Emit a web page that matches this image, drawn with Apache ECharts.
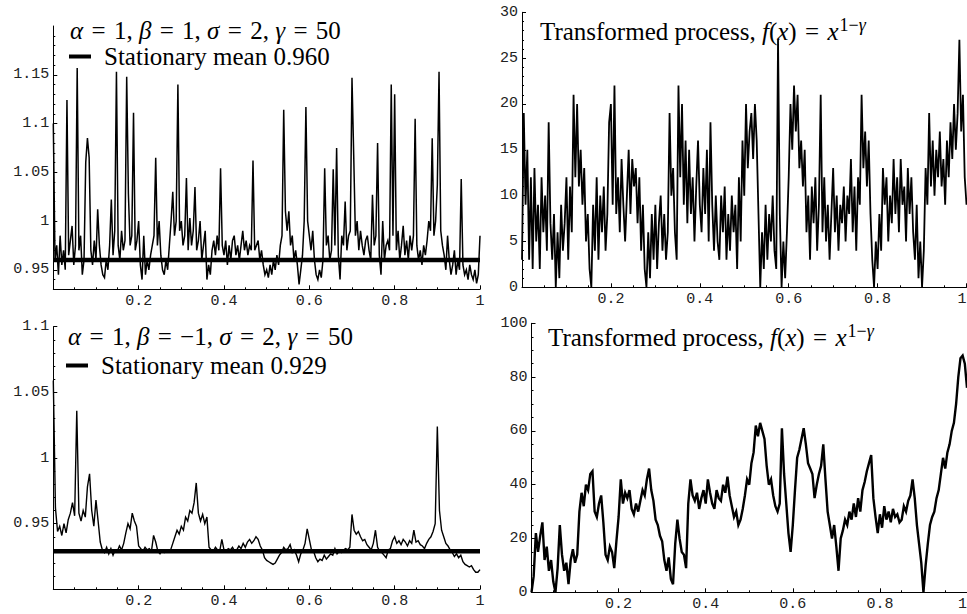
<!DOCTYPE html>
<html><head><meta charset="utf-8">
<script src="https://cdn.jsdelivr.net/npm/echarts@6/dist/echarts.min.js"></script>
<style>html,body{margin:0;padding:0;background:#fff}#c{width:967px;height:614px}</style>
</head><body><div id="c"></div>
<script>
// ---- data ----
const tlValues = [1.1,0.96,0.975,0.945,0.985,0.955,0.97,0.95,1.124,0.965,
0.98,0.995,0.955,0.975,1.157,0.97,0.985,0.945,0.96,1.06,
1.085,1.065,0.97,0.955,0.98,0.96,1.012,0.975,0.955,0.945,
0.942,0.96,0.95,0.975,1.022,0.965,0.99,1.153,0.975,0.96,
0.99,0.97,0.98,1.148,1.028,0.975,0.985,1.111,0.97,0.98,
1.0,0.955,0.94,0.985,0.945,0.96,0.95,0.965,0.975,0.985,
1.065,0.975,1.0,0.965,0.95,0.945,0.96,0.95,0.975,1.0,
1.03,0.985,1.0,1.14,0.99,1.0,0.975,0.985,1.044,0.97,
1.003,0.975,0.99,1.035,0.97,0.98,1.0,0.96,0.975,0.99,
0.94,0.955,0.945,0.97,0.98,0.965,0.985,0.97,1.054,0.975,
0.965,0.98,0.955,0.975,0.96,0.98,0.985,0.965,0.975,0.96,
0.975,0.99,0.97,0.98,0.965,0.975,0.97,1.062,0.97,0.975,
0.98,0.96,0.97,0.955,0.945,0.95,0.942,0.955,0.945,0.96,
0.95,0.965,0.955,0.975,0.985,1.114,1.01,0.99,1.01,0.975,
0.985,0.96,0.97,0.955,0.935,0.95,0.965,1.0,1.117,1.0,
0.985,0.97,0.99,0.96,0.945,0.94,0.95,0.942,0.96,1.054,
0.975,0.985,0.96,0.97,1.053,0.975,1.075,0.965,0.94,0.985,
0.975,1.02,0.97,0.985,0.99,1.147,1.068,0.985,1.0,0.97,
0.99,0.975,0.965,0.98,0.985,0.97,0.96,1.027,0.975,0.985,
1.08,0.965,0.945,1.0,0.96,0.975,0.98,0.97,1.14,0.985,
1.13,0.97,0.99,0.96,0.975,0.995,0.965,0.98,0.96,0.985,
0.97,0.985,1.105,0.975,0.96,0.97,0.955,0.975,0.965,0.98,
1.0,0.99,1.085,0.985,1.0,1.037,1.153,0.99,0.975,0.965,
0.95,0.985,0.96,0.945,0.955,0.97,0.945,0.96,0.95,1.043,
0.955,0.945,0.95,0.94,0.955,0.945,0.94,0.95,0.936,0.945,
0.985];
const trValues = [3,19,9,15,3,12,2,13,5,9,
2,12,6,10,4,18,7,3,8,0,
6,1,9,4,7,12,3,11,6,21,
12,20,11,15,9,13,5,8,2,0,
9,4,12,3,10,6,11,4,8,18,
20,9,22,8,12,6,14,9,5,10,
15,8,14,11,13,7,12,4,9,2,
0,6,1,8,3,9,2,7,10,4,
8,3,6,19,10,13,6,3,22,12,
20,9,16,7,15,8,12,5,11,16,
9,6,13,8,15,5,18,9,4,10,
5,3,10,6,11,3,8,4,10,6,
9,2,12,5,16,10,20,13,17,19,
14,20,16,8,0,6,2,9,3,8,
5,10,4,2,27,8,0,5,1,6,
12,20,15,22,17,21,13,16,11,15,
6,10,3,11,7,12,4,9,21,6,
12,5,9,3,8,13,6,10,4,9,
7,11,5,10,8,14,6,11,4,12,
9,21,13,17,11,16,8,3,0,5,
2,8,4,13,9,12,5,10,7,14,
8,12,6,14,9,11,5,13,8,12,
6,3,9,1,5,0,4,13,9,19,
11,16,10,15,12,17,11,14,9,16,
12,18,14,20,15,19,27,17,21,12,
9];
const blValues = [1.059,0.962,0.944,0.948,0.941,0.95,0.943,0.953,0.958,0.966,
0.956,1.036,0.958,0.952,0.96,0.955,0.978,0.988,0.96,0.948,
0.968,0.952,0.936,0.93,0.928,0.932,0.927,0.931,0.926,0.93,
0.929,0.933,0.93,0.935,0.943,0.95,0.946,0.958,0.952,0.948,
0.933,0.931,0.929,0.932,0.93,0.931,0.929,0.941,0.936,0.929,
0.927,0.93,0.928,0.929,0.93,0.93,0.935,0.94,0.945,0.942,
0.948,0.945,0.955,0.952,0.96,0.958,0.966,0.981,0.958,0.952,
0.957,0.95,0.955,0.932,0.93,0.929,0.932,0.93,0.929,0.938,
0.93,0.929,0.931,0.93,0.932,0.929,0.93,0.933,0.931,0.935,
0.932,0.936,0.938,0.935,0.937,0.94,0.938,0.933,0.93,0.924,
0.922,0.921,0.92,0.919,0.92,0.923,0.926,0.928,0.932,0.93,
0.931,0.934,0.928,0.93,0.926,0.921,0.927,0.93,0.935,0.946,
0.938,0.93,0.929,0.924,0.921,0.923,0.922,0.926,0.923,0.925,
0.927,0.926,0.931,0.927,0.929,0.928,0.93,0.931,0.93,0.932,
0.957,0.945,0.942,0.944,0.94,0.937,0.938,0.934,0.932,0.93,
0.935,0.945,0.932,0.929,0.928,0.926,0.924,0.93,0.931,0.937,
0.94,0.935,0.937,0.934,0.938,0.936,0.933,0.937,0.935,0.945,
0.936,0.937,0.934,0.933,0.931,0.935,0.938,0.94,0.944,0.95,
1.024,0.96,0.945,0.94,0.935,0.933,0.93,0.928,0.925,0.927,
0.924,0.926,0.921,0.919,0.918,0.917,0.918,0.915,0.913,0.913,
0.915];
const brValues = [0,6,22,15,21,26,12,17,8,12,
4,0,9,25,14,8,11,3,12,16,
11,14,30,37,32,40,38,44,45,30,
28,33,36,26,14,12,17,15,9,19,
28,42,33,37,35,38,31,29,33,30,
34,38,36,42,46,38,34,27,25,21,
19,12,8,13,5,3,18,27,20,15,
14,9,33,42,36,34,37,31,35,38,
33,42,37,33,31,38,35,34,40,37,
43,36,32,28,30,25,27,31,36,42,
40,48,52,62,58,63,60,57,47,40,
42,36,32,30,33,61,44,33,22,15,
25,38,50,53,57,61,55,48,46,44,
35,40,44,47,55,42,30,25,20,25,
17,8,20,23,27,25,30,27,33,28,
35,30,38,41,45,48,51,35,28,22,
29,24,32,27,30,26,31,28,29,26,
27,32,30,34,36,42,35,25,18,11,
0,10,18,25,28,30,35,38,44,50,
46,52,55,60,63,70,80,87,88,85,
76];
const tlMean = 0.960;
const blMean = 0.929;
const xTickLabels = [0.2, 0.4, 0.6, 0.8, 1];
const tlYTickLabels = [0.95, 1, 1.05, 1.1, 1.15];
const trYTickLabels = [0, 5, 10, 15, 20, 25, 30];
const blYTickLabels = [0.95, 1, 1.05, 1.1];
const brYTickLabels = [0, 20, 40, 60, 80, 100];
const EQ = '\u2004=\u2004';
const topLeftTitle = '{m|α}' + EQ + '1, {m|β}' + EQ + '1, {m|σ}' + EQ + '2, {m|γ}' + EQ + '50';
const botLeftTitle = '{m|α}' + EQ + '1, {m|β}' + EQ + '−1, {m|σ}' + EQ + '2, {m|γ}' + EQ + '50';
const rightTitle = 'Transformed process, {m|f}({m|x})' + EQ + '{m|x}{s|1−}{si|γ}';

// ---- helpers ----
function pts(vals){ const n = vals.length - 1; return vals.map((v,i)=>[i/n, v]); }
function range(a,b,s,skip){ const r=[]; const n=Math.round((b-a)/s); for(let k=0;k<=n;k++){ const v=+(a+k*s).toFixed(4); if(!skip.some(m=>Math.abs(m-v)<1e-6)) r.push(v);} return r; }
function fmt(v){ return String(+(+v).toFixed(3)); }
const mono = 'Liberation Mono';
const serif = 'Liberation Serif';
const tickColor = '#000';
const FS = 25;

function axisPair(kind, gi, min, max, labels, minor, alignRight){
  const pos = kind === 'x' ? 'bottom' : 'left';
  const major = {
    type:'value', gridIndex:gi, min:min, max:max, position:pos, offset:0,
    axisLine:{show:true, onZero:false, lineStyle:{color:'#000', width:1}},
    splitLine:{show:false},
    axisTick:{show:true, inside:true, length:4, customValues:labels, lineStyle:{color:tickColor, width:1}},
    axisLabel:{show:true, customValues:labels, formatter:v=>fmt(v), fontFamily:mono, fontSize:15, color:'#222',
      margin:kind==='x'?5:4, alignMaxLabel: alignRight ? 'right' : null}
  };
  const mn = {
    type:'value', gridIndex:gi, min:min, max:max, position:pos, offset:0,
    axisLine:{show:false}, splitLine:{show:false},
    axisTick:{show:true, inside:true, length:2, customValues:minor, lineStyle:{color:tickColor, width:1}},
    axisLabel:{show:false}
  };
  return [major, mn];
}

const xMinor = range(0, 1, 0.05, xTickLabels.concat([0]));
const grids = [
  {left:53.3, top:26, width:426.7, height:263.3},
  {left:522, top:12.3, width:444.5, height:275},
  {left:53.3, top:326.7, width:426.7, height:262.6},
  {left:531.5, top:323.3, width:435.5, height:269}
].map(g=>Object.assign({containLabel:false, outerBoundsMode:'none'}, g));

const xAxes = [].concat(
  axisPair('x',0,0,1,xTickLabels,xMinor,false),
  axisPair('x',1,0,1,xTickLabels,xMinor,true),
  axisPair('x',2,0,1,xTickLabels,xMinor,false),
  axisPair('x',3,0,1,xTickLabels,xMinor,true));
const yAxes = [].concat(
  axisPair('y',0,0.93,1.2,tlYTickLabels,range(0.94,1.19,0.01,tlYTickLabels)),
  axisPair('y',1,0,30,trYTickLabels,range(0,30,1,trYTickLabels)),
  axisPair('y',2,0.9,1.1,blYTickLabels,range(0.91,1.09,0.01,blYTickLabels)),
  axisPair('y',3,0,100,brYTickLabels,range(0,100,5,brYTickLabels)));

const tlMeanName = 'Stationary mean ' + tlMean.toFixed(3);
const blMeanName = 'Stationary mean ' + blMean.toFixed(3);

function trace(gi, vals, w){
  return {type:'line', xAxisIndex:2*gi, yAxisIndex:2*gi, data:pts(vals), symbol:'none', showSymbol:false,
    lineStyle:{color:'#000', width:w, join:'miter', miterLimit:4}, itemStyle:{color:'#000'}, silent:true, animation:false, z:2};
}
function meanLine(gi, name, m){
  return {type:'line', name:name, xAxisIndex:2*gi, yAxisIndex:2*gi, data:[[0,m],[1,m]], symbol:'none',
    lineStyle:{color:'#000', width:4.5}, itemStyle:{color:'#000'}, silent:true, animation:false, z:3};
}

const rich = {
  m:{fontFamily:serif, fontSize:FS, fontStyle:'italic', color:'#000'},
  s:{fontFamily:serif, fontSize:18, color:'#000', padding:[0,0,12,1]},
  si:{fontFamily:serif, fontSize:18, fontStyle:'italic', color:'#000', padding:[0,0,12,0]}
};
function title(text, left, top){
  return {text:text, left:left, top:top, padding:0,
    textStyle:{fontFamily:serif, fontSize:FS, fontWeight:'normal', color:'#000', rich:rich}};
}
function legend(name, left, top){
  return {data:[name], left:left, top:top, padding:0, icon:'rect', itemWidth:22, itemHeight:4,
    selectedMode:false, itemStyle:{borderWidth:0}, formatter:n=>'{t|'+n+'}',
    textStyle:{fontFamily:serif, fontSize:FS, color:'#000',
      rich:{t:{fontFamily:serif, fontSize:FS, color:'#000', padding:[0,0,0,8]}}}};
}

const option = {
  animation:false,
  backgroundColor:'#fff',
  color:['#000'],
  title:[ title(topLeftTitle, 70, 18), title(rightTitle, 540, 16), title(botLeftTitle, 68, 324), title(rightTitle, 548, 322) ],
  legend:[ legend(tlMeanName, 69, 44), legend(blMeanName, 66, 353) ],
  grid: grids,
  xAxis: xAxes,
  yAxis: yAxes,
  series:[
    trace(0, tlValues, 1.5), meanLine(0, tlMeanName, tlMean),
    trace(1, trValues, 1.8),
    trace(2, blValues, 1.4), meanLine(2, blMeanName, blMean),
    trace(3, brValues, 2.4)
  ]
};
const chart = echarts.init(document.getElementById('c'), null, {renderer:'svg'});
chart.setOption(option);
</script>
</body></html>
